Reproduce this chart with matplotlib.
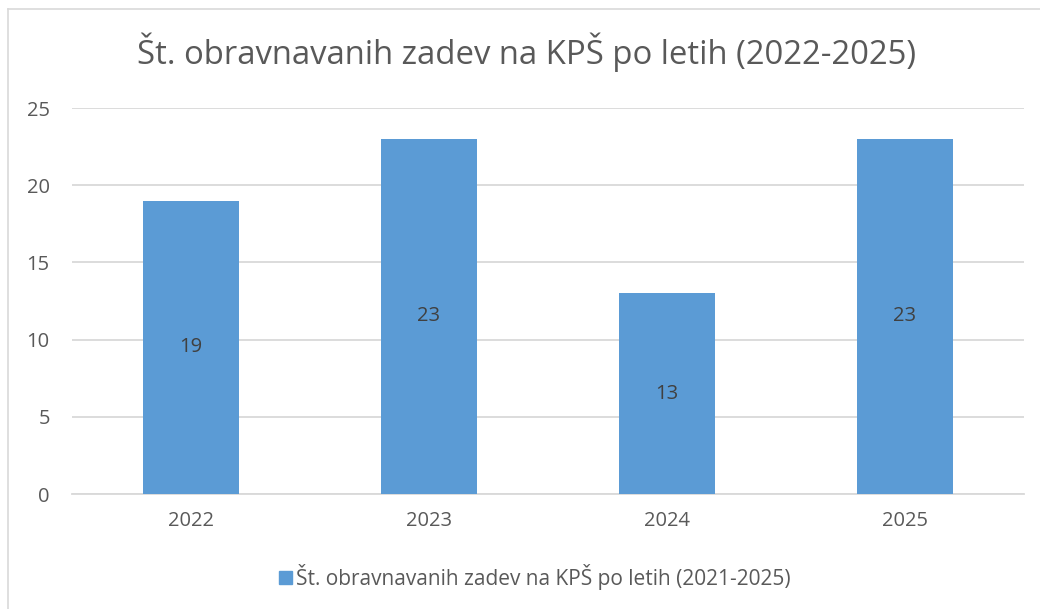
import matplotlib
matplotlib.use("Agg")
import matplotlib.pyplot as plt
from matplotlib.patches import Rectangle

years = ["2022", "2023", "2024", "2025"]
cases = [19, 23, 13, 23]
yticks = [0, 5, 10, 15, 20, 25]
title = "Št. obravnavanih zadev na KPŠ po letih (2022-2025)"
series_name = "Št. obravnavanih zadev na KPŠ po letih (2021-2025)"

bar_color = "#5B9BD5"
text_color = "#595959"
grid_color = "#D9D9D9"

plt.rcParams["font.family"] = ["Open Sans", "DejaVu Sans"]

fig = plt.figure(figsize=(10.40, 6.09), dpi=100)
W, H = 1040, 609

# chart border (only left/top visible in the crop)
fig.add_artist(plt.Line2D([8 / W, 8 / W], [0, 1 - 9 / H], color="#D9D9D9", lw=1.2))
fig.add_artist(plt.Line2D([8 / W, 1], [1 - 9 / H, 1 - 9 / H], color="#D9D9D9", lw=1.2))

ax = fig.add_axes([72 / W, 1 - 494 / H, (1024 - 72) / W, (494 - 108) / H])
x = range(len(years))
bars = ax.bar(x, cases, width=0.4, color=bar_color, label=series_name, zorder=3)

ax.set_xlim(-0.5, len(years) - 0.5)
ax.set_ylim(0, 25)
ax.set_yticks(yticks)
ax.set_xticks(list(x))
ax.set_xticklabels(years)
ax.tick_params(axis="both", length=0, colors=text_color, labelsize=14.5)
ax.tick_params(axis="x", pad=12)
ax.tick_params(axis="y", pad=16)

ax.yaxis.grid(True, color=grid_color, lw=1.3, zorder=0)
for s in ["top", "right", "left"]:
    ax.spines[s].set_visible(False)
ax.spines["bottom"].set_color(grid_color)
ax.spines["bottom"].set_linewidth(1.3)

for b, v in zip(bars, cases):
    ax.text(b.get_x() + b.get_width() / 2, v / 2, str(v), ha="center", va="center",
            color="#404040", fontsize=14.5, zorder=4)

fig.text(527 / W, 1 - 52 / H, title, ha="center", va="center", color=text_color, fontsize=23.7)

leg = fig.legend(handles=[Rectangle((0, 0), 1, 1, color=bar_color)], labels=[series_name],
                 loc="center", bbox_to_anchor=(535 / W, 1 - 577 / H), frameon=False,
                 fontsize=15, handlelength=0.6, handleheight=0.6, handletextpad=0.2)
for t in leg.get_texts():
    t.set_color(text_color)

fig.savefig("out.png", dpi=100)
